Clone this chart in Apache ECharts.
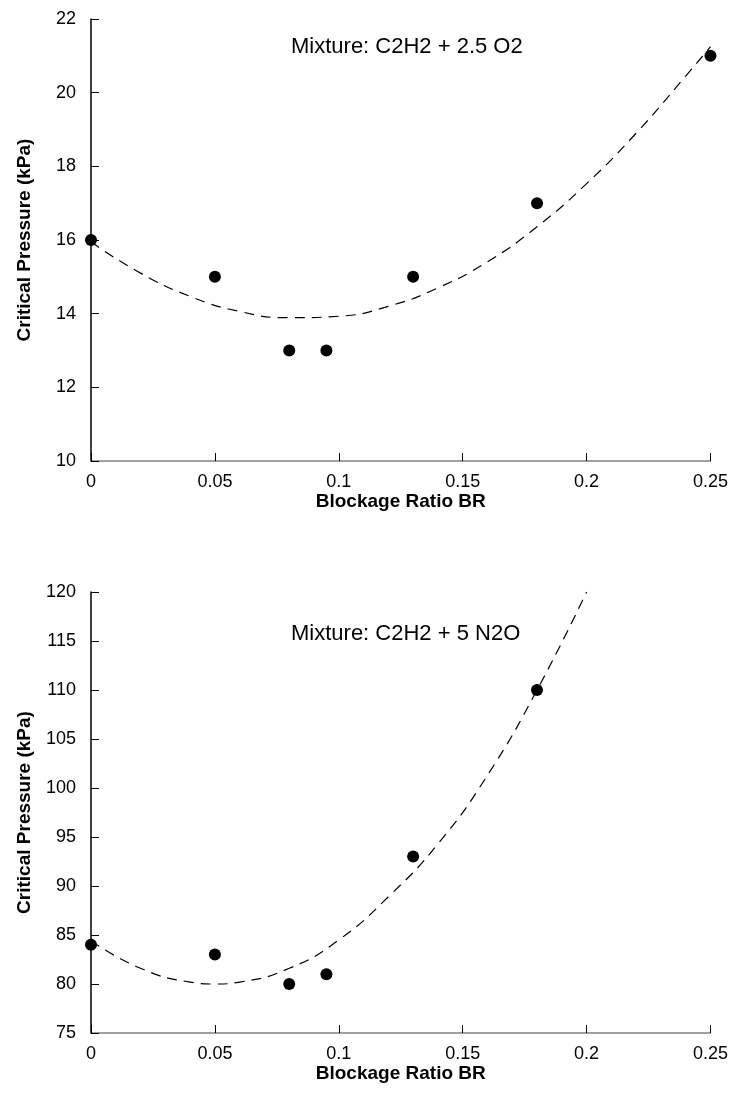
<!DOCTYPE html>
<html>
<head>
<meta charset="utf-8">
<script src="https://cdn.jsdelivr.net/npm/echarts@6/dist/echarts.min.js"></script>
<style>
html,body{margin:0;padding:0;background:#fff;}
#main{width:731px;height:1110px;}
</style>
</head>
<body>
<div id="main"></div>
<script>
// measured points, top chart (C2H2 + 2.5 O2)
var brTop = [0, 0.05, 0.08, 0.095, 0.13, 0.18, 0.25];
var pTop = [16, 15, 13, 13, 15, 17, 21];
// dashed fit
var fitBrTop = [0, 0.02, 0.04, 0.06, 0.08, 0.1, 0.12, 0.14, 0.16, 0.18, 0.2, 0.22, 0.24, 0.25];
var fitPTop = [15.95, 15.1, 14.47, 14.06, 13.89, 13.93, 14.2, 14.7, 15.41, 16.36, 17.53, 18.9, 20.45, 21.25];

// bottom chart (C2H2 + 5 N2O)
var brBot = [0, 0.05, 0.08, 0.095, 0.13, 0.18];
var pBot = [84, 83, 80, 81, 93, 110];
var fitBrBot = [0, 0.02, 0.04, 0.05, 0.06, 0.08, 0.1, 0.12, 0.14, 0.16, 0.18, 0.2];
var fitPBot = [84.4, 81.6, 80.2, 80.0, 80.2, 81.6, 84.5, 88.9, 94.3, 101.3, 110.0, 120.0];

var xTicks = [0, 0.05, 0.1, 0.15, 0.2, 0.25];
var titles = ['Mixture: C2H2 + 2.5 O2', 'Mixture: C2H2 + 5 N2O'];

function zip(a, b) {
  var out = [];
  for (var i = 0; i < a.length; i++) out.push([a[i], b[i]]);
  return out;
}

var font = 'Liberation Sans, Arial, sans-serif';

function xAxisOf(idx) {
  return {
    gridIndex: idx, type: 'value', min: 0, max: 0.25, interval: 0.05,
    name: 'Blockage Ratio BR', nameLocation: 'middle', nameGap: 24,
    nameTextStyle: {fontFamily: font, fontSize: 19, fontWeight: 'bold', color: '#000'},
    axisLine: {lineStyle: {color: '#808080', width: 1.5}},
    axisTick: {inside: true, length: 8, lineStyle: {color: '#000'}},
    axisLabel: {fontFamily: font, fontSize: 18, color: '#000', margin: 12,
      formatter: function (v) { return xTicks.indexOf(+v.toFixed(2)) >= 0 ? String(+v.toFixed(2)) : ''; }},
    splitLine: {show: false}
  };
}
function yAxisOf(idx, mn, mx, step) {
  return {
    gridIndex: idx, type: 'value', min: mn, max: mx, interval: step,
    name: 'Critical Pressure (kPa)', nameLocation: 'middle', nameGap: 57,
    nameTextStyle: {fontFamily: font, fontSize: 19, fontWeight: 'bold', color: '#000'},
    axisLine: {show: true, lineStyle: {color: '#000', width: 1.5}},
    axisTick: {show: true, inside: true, length: 8, lineStyle: {color: '#000'}},
    axisLabel: {fontFamily: font, fontSize: 18, color: '#000', margin: 15},
    splitLine: {show: false}
  };
}

var chart = echarts.init(document.getElementById('main'), null, {renderer: 'canvas'});
var option = {
  backgroundColor: '#fff',
  animation: false,
  title: [
    {text: titles[0], left: 286, top: 31, textStyle: {fontFamily: font, fontSize: 22, fontWeight: 'normal', color: '#000'}},
    {text: titles[1], left: 286, top: 618, textStyle: {fontFamily: font, fontSize: 22, fontWeight: 'normal', color: '#000'}}
  ],
  grid: [
    {left: 91, top: 19, width: 620, height: 442},
    {left: 91, top: 592, width: 620, height: 441}
  ],
  xAxis: [xAxisOf(0), xAxisOf(1)],
  yAxis: [yAxisOf(0, 10, 22, 2), yAxisOf(1, 75, 120, 5)],
  series: [
    {type: 'line', xAxisIndex: 0, yAxisIndex: 0, data: zip(fitBrTop, fitPTop), smooth: true,
      showSymbol: false, lineStyle: {color: '#000', width: 1.2, type: [10, 7]}, z: 2},
    {type: 'scatter', xAxisIndex: 0, yAxisIndex: 0, data: zip(brTop, pTop), symbolSize: 12,
      itemStyle: {color: '#000', opacity: 1}, z: 3},
    {type: 'line', xAxisIndex: 1, yAxisIndex: 1, data: zip(fitBrBot, fitPBot), smooth: true,
      showSymbol: false, lineStyle: {color: '#000', width: 1.2, type: [10, 7]}, z: 2},
    {type: 'scatter', xAxisIndex: 1, yAxisIndex: 1, data: zip(brBot, pBot), symbolSize: 12,
      itemStyle: {color: '#000', opacity: 1}, z: 3}
  ]
};
chart.setOption(option);
</script>
</body>
</html>
